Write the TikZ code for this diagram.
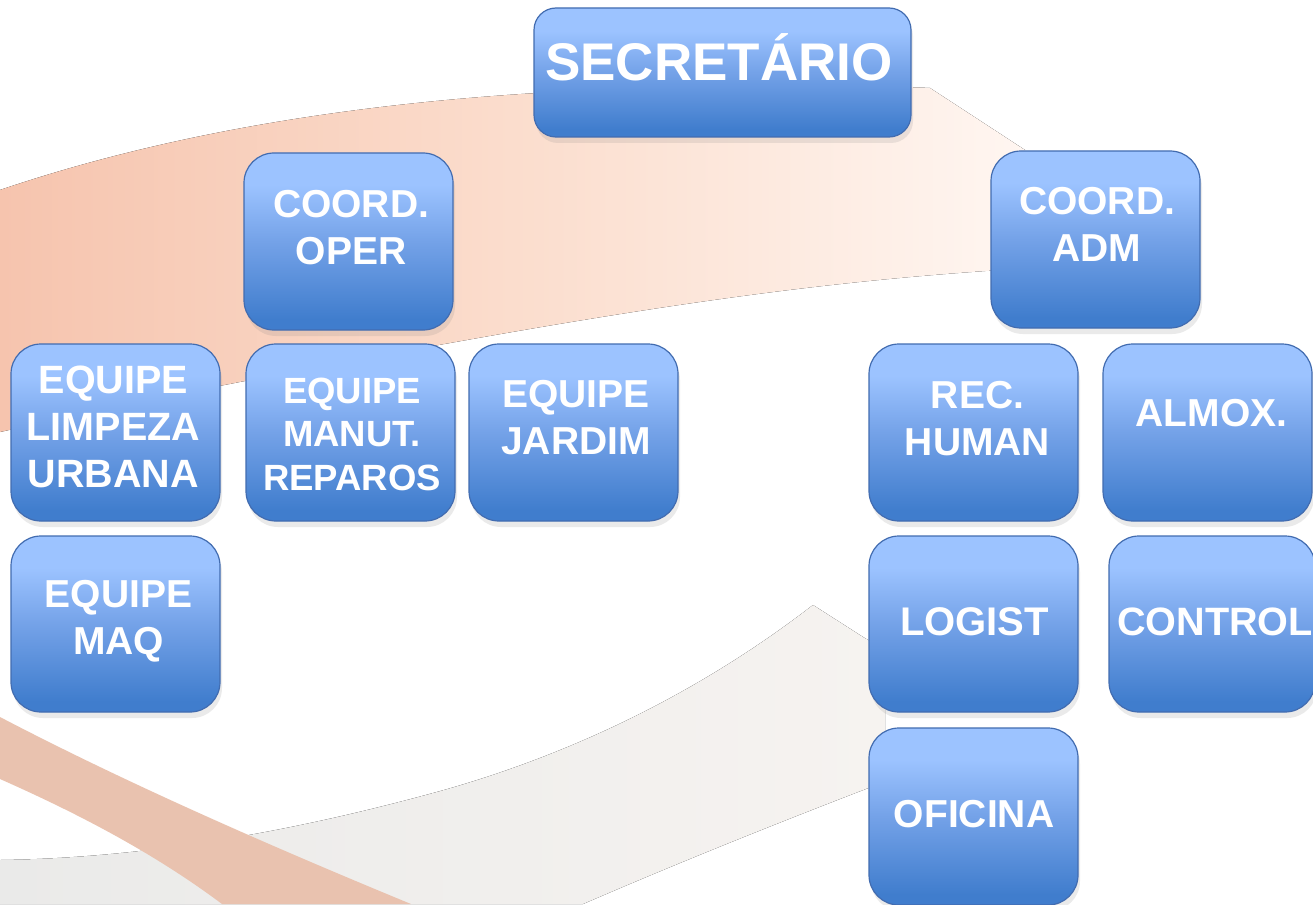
\documentclass[tikz,border=0pt]{standalone}
\usepackage{fontspec}
\setmainfont{Liberation Sans}
\usetikzlibrary{shadows}
\definecolor{boxtop}{RGB}{156,195,255}
\definecolor{boxmid}{RGB}{116,162,232}
\definecolor{boxbot}{RGB}{64,125,205}
\definecolor{boxline}{RGB}{66,108,176}
\definecolor{orA}{RGB}{246,196,174}
\definecolor{orB}{RGB}{251,221,205}
\definecolor{orC}{RGB}{255,246,241}
\definecolor{orD}{RGB}{233,194,175}
\definecolor{grA}{RGB}{234,234,233}
\definecolor{grB}{RGB}{246,243,240}
\pgfdeclareverticalshading{boxgrad}{100bp}{color(0bp)=(boxbot); color(25bp)=(boxbot); color(28bp)=(boxbot); color(50bp)=(boxmid); color(66bp)=(boxtop); color(75bp)=(boxtop); color(100bp)=(boxtop)}
\tikzset{
  box/.style={draw=boxline, line width=1.2pt, rounded corners=30pt, shading=boxgrad,
    minimum width=209pt, minimum height=177pt, inner sep=0pt,
    drop shadow={opacity=0.16, shadow xshift=2pt, shadow yshift=-6pt}},
  lbl/.style={text=white, font=\bfseries\fontsize{39}{47}\selectfont, align=center, inner sep=0pt},
}
\begin{document}
\begin{tikzpicture}[x=1pt,y=-1pt]
\useasboundingbox (0,0) rectangle (1313,904);
\fill[white] (0,0) rectangle (1313,904);
% background swooshes
\fill[left color=orA, right color=orC, middle color=orB]
  (0,190) .. controls (200,122) and (420,96) .. (620,89)
  .. controls (760,84) and (870,85) .. (930,88)
  -- (1025,150) -- (1000,270)
  .. controls (850,280) and (700,298) .. (450,343)
  .. controls (250,378) and (100,410) .. (0,432) -- cycle;
\fill[left color=grA, right color=grB]
  (0,860) .. controls (150,858) and (300,830) .. (444,790)
  .. controls (560,757) and (690,700) .. (813,605)
  -- (863,637) -- (885,650) -- (885,785) -- (871,787)
  .. controls (780,822) and (680,862) .. (583,904) -- (0,904) -- cycle;
\fill[orD]
  (0,717) .. controls (130,785) and (280,850) .. (411,904)
  -- (222,904) .. controls (150,850) and (70,810) .. (0,779) -- cycle;
% boxes
\node[box, rounded corners=22pt, minimum width=377pt, minimum height=129pt] (sec) at (722.5,72.5) {};
\node[box] (oper) at (348.5,241.5) {};
\node[box] (adm) at (1095.5,239.5) {};
\node[box] (limp) at (115.5,432.5) {};
\node[box] (manut) at (350.5,432.5) {};
\node[box] (jard) at (573.5,432.5) {};
\node[box] (rec) at (973.5,432.5) {};
\node[box] (almox) at (1207.5,432.5) {};
\node[box, minimum height=176pt] (maq) at (115.5,624) {};
\node[box, minimum height=176pt] (logist) at (973.5,624) {};
\node[box, minimum width=206pt, minimum height=176pt] (control) at (1212,624) {};
\node[box] (ofic) at (973.5,816.5) {};
% labels
\node[lbl, font=\bfseries\fontsize{53}{60}\selectfont, text height=38pt, text depth=0pt] (tsec) at (719,62) {SECRETÁRIO};
\node[lbl] (toper) at (351,227.5) {COORD.\\OPER};
\node[lbl] (tadm) at (1097,224.5) {COORD.\\ADM};
\node[lbl, font=\bfseries\fontsize{39.5}{47}\selectfont] (tlimp) at (113.5,426.5) {EQUIPE\\LIMPEZA\\URBANA};
\node[lbl, font=\bfseries\fontsize{36.5}{43.5}\selectfont] (tmanut) at (352,434) {EQUIPE\\MANUT.\\REPAROS};
\node[lbl] (tjard) at (576,417.5) {EQUIPE\\JARDIM};
\node[lbl] (trec) at (977.5,418.5) {REC.\\HUMAN};
\node[lbl, text height=28pt, text depth=0pt] (talmox) at (1211.5,412) {ALMOX.};
\node[lbl] (tmaq) at (118.5,621.5) {EQUIPE\\MAQ};
\node[lbl, font=\bfseries\fontsize{40}{47}\selectfont, text height=28.6pt, text depth=0pt] (tlogist) at (974.5,621) {LOGIST};
\node[lbl, font=\bfseries\fontsize{39.6}{47}\selectfont, text height=28.4pt, text depth=0pt] (tcontrol) at (1215,621) {CONTROL};
\node[lbl, text height=28pt, text depth=0pt] (tofic) at (974,813) {OFICINA};
\end{tikzpicture}
\end{document}
